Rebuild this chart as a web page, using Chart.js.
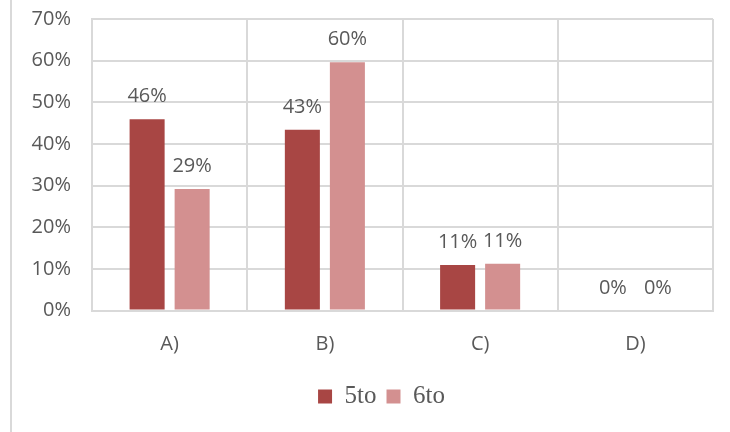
<!DOCTYPE html>
<html>
<head>
<meta charset="utf-8">
<script src="https://cdn.jsdelivr.net/npm/chart.js@4/dist/chart.umd.min.js"></script>
<style>
  html, body { margin: 0; padding: 0; background: #ffffff; overflow: hidden; }
  #wrap { position: relative; width: 730px; height: 432px; }
</style>
</head>
<body>
<div id="wrap"><canvas id="chart" width="730" height="432"></canvas></div>
<script>
// Answer options and the share of each grade choosing them
const categories = ['A)', 'B)', 'C)', 'D)'];
const seriesNames = ['5to', '6to'];
const quinto = [0.459, 0.434, 0.109, 0];
const sexto = [0.292, 0.596, 0.112, 0];
const yTickMax = 0.7;
const yTickStep = 0.1;

const seriesColors = ['#A84644', '#D39090'];
const textColor = '#595959';
const gridColor = '#D9D9D9';
const uiFont = "'Open Sans', 'Noto Sans', sans-serif";

const pct = v => Math.round(v * 100) + '%';

// Value labels above every bar
const valueLabels = {
  id: 'valueLabels',
  afterDatasetsDraw(chart) {
    const ctx = chart.ctx;
    ctx.save();
    ctx.font = '20px ' + uiFont;
    ctx.fillStyle = textColor;
    ctx.textAlign = 'center';
    ctx.textBaseline = 'alphabetic';
    chart.data.datasets.forEach((ds, di) => {
      const meta = chart.getDatasetMeta(di);
      meta.data.forEach((bar, i) => {
        ctx.fillText(pct(ds.data[i]), bar.x, bar.y - 17);
      });
    });
    ctx.restore();
  }
};

// Thin frame line along the left side of the figure; the legend sits
// centred on the frame rather than on the canvas, so nudge it right.
const frame = {
  id: 'frame',
  afterLayout(chart) {
    const lg = chart.legend;
    if (lg) { lg.left += 19; lg.right += 19; }
  },
  beforeDraw(chart) {
    const ctx = chart.ctx;
    ctx.save();
    ctx.fillStyle = gridColor;
    ctx.fillRect(10, 0, 2, chart.height);
    ctx.restore();
  }
};

new Chart(document.getElementById('chart'), {
  type: 'bar',
  data: {
    labels: categories,
    datasets: [
      { label: seriesNames[0], data: quinto, backgroundColor: seriesColors[0] },
      { label: seriesNames[1], data: sexto, backgroundColor: seriesColors[1] }
    ]
  },
  options: {
    responsive: false,
    animation: false,
    categoryPercentage: 0.58,
    barPercentage: 0.778,
    layout: { padding: { left: 12, right: 17, top: 19, bottom: 13 } },
    plugins: {
      tooltip: { enabled: false },
      legend: {
        position: 'bottom',
        labels: {
          boxWidth: 14,
          boxHeight: 14,
          padding: 10,
          color: textColor,
          font: { family: "'Liberation Serif', 'Times New Roman', serif", size: 25 }
        }
      }
    },
    scales: {
      x: {
        grid: { color: gridColor, lineWidth: 2, drawTicks: false, offset: true },
        border: { color: gridColor, width: 2 },
        ticks: { color: textColor, font: { family: uiFont, size: 20 }, padding: 22 },
        afterFit(scale) { scale.height = 63.5; }
      },
      y: {
        min: 0,
        max: yTickMax,
        grid: { color: gridColor, lineWidth: 2, drawTicks: false },
        border: { color: gridColor, width: 2 },
        ticks: {
          stepSize: yTickStep,
          color: textColor,
          font: { family: uiFont, size: 20 },
          padding: 21,
          callback: v => pct(v)
        },
        afterFit(scale) {
          scale.width = 80;
          scale.paddingTop = 0;
          scale.paddingBottom = 0;
        }
      }
    }
  },
  plugins: [valueLabels, frame]
});
</script>
</body>
</html>
